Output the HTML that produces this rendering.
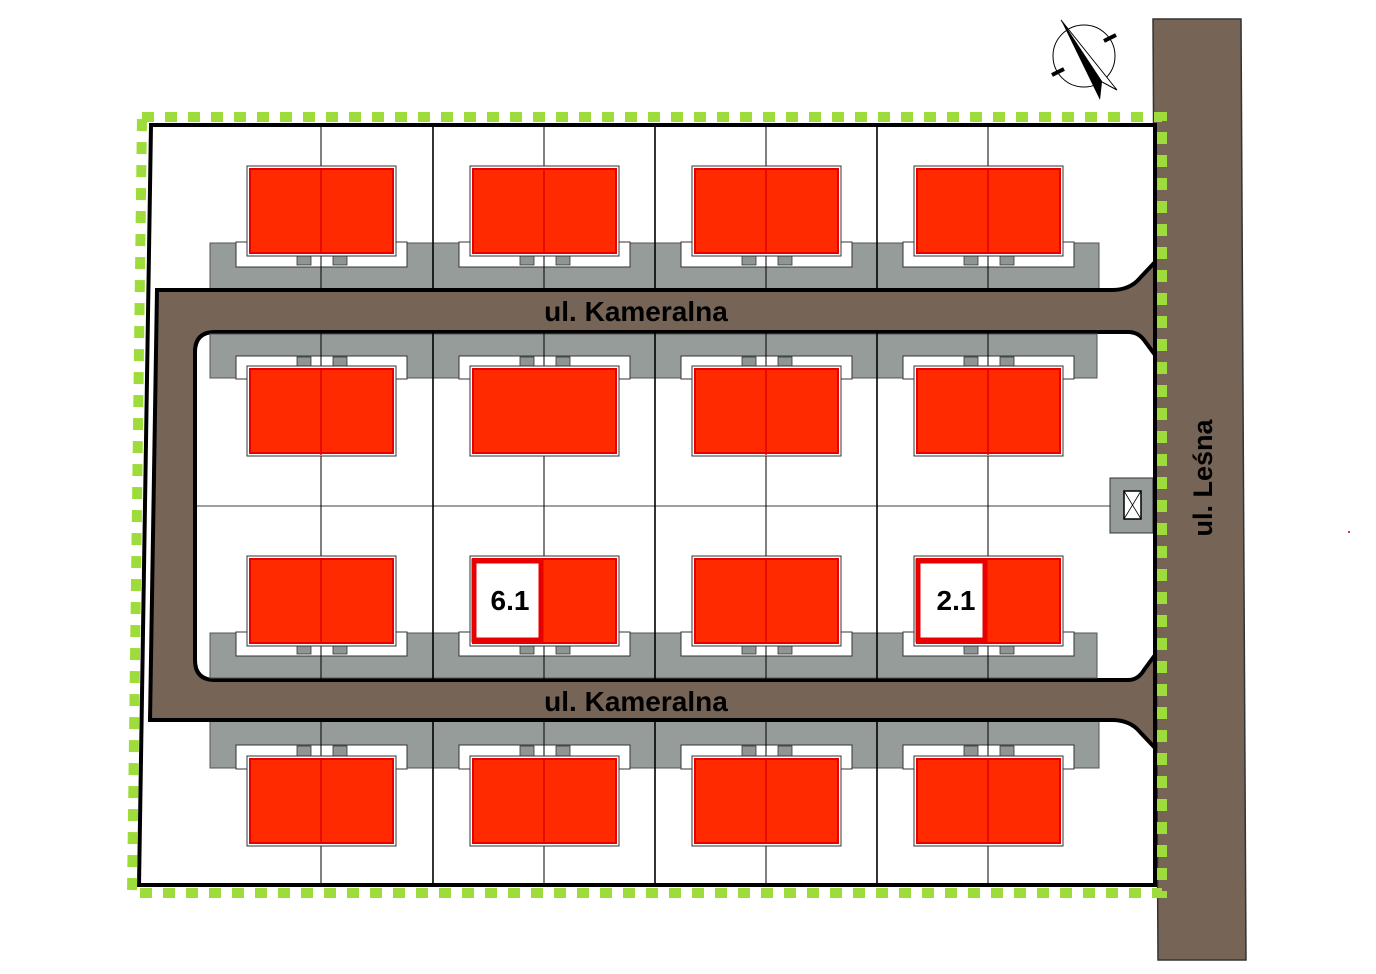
<!DOCTYPE html>
<html><head><meta charset="utf-8"><style>html,body{margin:0;padding:0;background:#fff}svg{display:block}</style></head><body>
<svg width="1376" height="974" viewBox="0 0 1376 974" xmlns="http://www.w3.org/2000/svg" font-family="Liberation Sans, sans-serif">
<defs>
<g id="h"><rect x="-1" y="-1" width="149" height="90" fill="#fff" stroke="#333" stroke-width="1"/><rect x="2" y="2" width="143" height="84" fill="#ff2a00" stroke="#e80000" stroke-width="2"/></g>
<g id="c"><rect x="49" y="0" width="14" height="11" fill="#8f9594" stroke="#333" stroke-width="0.8"/><rect x="85" y="0" width="14" height="11" fill="#8f9594" stroke="#333" stroke-width="0.8"/></g>
</defs>
<rect width="1376" height="974" fill="#fff"/>
<polygon points="1153,19 1241,19 1246,960 1158,960" fill="#766456" stroke="#333" stroke-width="1.5"/>
<polygon points="151,125 1155,125 1155,885 139,885" fill="#fff"/>
<g fill="#969c9a" stroke="#555" stroke-width="1">
<rect x="210" y="243" width="889" height="47"/>
<rect x="210" y="332" width="889" height="46"/>
<rect x="210" y="633" width="889" height="47"/>
<rect x="210" y="720" width="889" height="48"/>
</g>
<g fill="#fff" stroke="#333" stroke-width="1">
<rect x="236" y="242" width="171" height="25"/><rect x="459" y="242" width="171" height="25"/><rect x="681" y="242" width="171" height="25"/><rect x="903" y="242" width="171" height="25"/>
<rect x="236" y="745" width="171" height="24"/><rect x="459" y="745" width="171" height="24"/><rect x="681" y="745" width="171" height="24"/><rect x="903" y="745" width="171" height="24"/>
</g>
<path d="M157,290 L1112,290 Q1130,290 1140,278 L1155,262 L1155,748 L1140,732 Q1130,720 1112,720 L150,720 Z" fill="#766456" stroke="#000" stroke-width="4"/>
<path d="M215,332 L1128,332 Q1138,332 1144,340 L1155,355 L1155,655 L1144,670 Q1138,680 1128,680 L215,680 Q195,680 195,660 L195,352 Q195,332 215,332 Z" fill="#fff" stroke="#000" stroke-width="4"/>
<g fill="#969c9a" stroke="#555" stroke-width="1">
<rect x="210" y="334" width="887" height="44"/>
<rect x="210" y="633" width="887" height="45"/>
</g>
<g fill="#fff" stroke="#333" stroke-width="1">
<rect x="236" y="356" width="171" height="23"/><rect x="459" y="356" width="171" height="23"/><rect x="681" y="356" width="171" height="23"/><rect x="903" y="356" width="171" height="23"/>
<rect x="236" y="632" width="171" height="24"/><rect x="459" y="632" width="171" height="24"/><rect x="681" y="632" width="171" height="24"/><rect x="903" y="632" width="171" height="24"/>
</g>
<g stroke="#000" stroke-width="1">
<line x1="321" y1="125" x2="321" y2="290"/><line x1="544" y1="125" x2="544" y2="290"/><line x1="766" y1="125" x2="766" y2="290"/><line x1="988" y1="125" x2="988" y2="290"/>
<line x1="321" y1="332" x2="321" y2="680"/><line x1="544" y1="332" x2="544" y2="680"/><line x1="766" y1="332" x2="766" y2="680"/><line x1="988" y1="332" x2="988" y2="680"/>
<line x1="321" y1="720" x2="321" y2="885"/><line x1="544" y1="720" x2="544" y2="885"/><line x1="766" y1="720" x2="766" y2="885"/><line x1="988" y1="720" x2="988" y2="885"/>
<line x1="197" y1="506" x2="1110" y2="506" stroke-width="0.8"/>
</g>
<g stroke="#000" stroke-width="1.6">
<line x1="433" y1="125" x2="433" y2="290"/><line x1="655" y1="125" x2="655" y2="290"/><line x1="877" y1="125" x2="877" y2="290"/>
<line x1="433" y1="332" x2="433" y2="680"/><line x1="655" y1="332" x2="655" y2="680"/><line x1="877" y1="332" x2="877" y2="680"/>
<line x1="433" y1="720" x2="433" y2="885"/><line x1="655" y1="720" x2="655" y2="885"/><line x1="877" y1="720" x2="877" y2="885"/>
</g>
<use href="#c" x="248" y="254"/><use href="#c" x="471" y="254"/><use href="#c" x="693" y="254"/><use href="#c" x="915" y="254"/>
<use href="#c" x="248" y="357"/><use href="#c" x="471" y="357"/><use href="#c" x="693" y="357"/><use href="#c" x="915" y="357"/>
<use href="#c" x="248" y="643"/><use href="#c" x="471" y="643"/><use href="#c" x="693" y="643"/><use href="#c" x="915" y="643"/>
<use href="#c" x="248" y="746"/><use href="#c" x="471" y="746"/><use href="#c" x="693" y="746"/><use href="#c" x="915" y="746"/>
<use href="#h" x="248" y="167"/><use href="#h" x="471" y="167"/><use href="#h" x="693" y="167"/><use href="#h" x="915" y="167"/>
<use href="#h" x="248" y="367"/><use href="#h" x="471" y="367"/><use href="#h" x="693" y="367"/><use href="#h" x="915" y="367"/>
<use href="#h" x="248" y="557"/><use href="#h" x="471" y="557"/><use href="#h" x="693" y="557"/><use href="#h" x="915" y="557"/>
<use href="#h" x="248" y="757"/><use href="#h" x="471" y="757"/><use href="#h" x="693" y="757"/><use href="#h" x="915" y="757"/>
<g stroke="#e00000" stroke-width="1.5">
<line x1="321" y1="168" x2="321" y2="254"/><line x1="544" y1="168" x2="544" y2="254"/><line x1="766" y1="168" x2="766" y2="254"/><line x1="988" y1="168" x2="988" y2="254"/>
<line x1="321" y1="368" x2="321" y2="455"/><line x1="766" y1="368" x2="766" y2="455"/><line x1="988" y1="368" x2="988" y2="455"/>
<line x1="321" y1="558" x2="321" y2="643"/><line x1="766" y1="558" x2="766" y2="643"/>
<line x1="321" y1="758" x2="321" y2="843"/><line x1="544" y1="758" x2="544" y2="843"/><line x1="766" y1="758" x2="766" y2="843"/><line x1="988" y1="758" x2="988" y2="843"/>
</g>
<rect x="474" y="561" width="67" height="79" fill="#fff" stroke="#e80000" stroke-width="5"/>
<rect x="918" y="561" width="67" height="79" fill="#fff" stroke="#e80000" stroke-width="5"/>
<text x="510" y="610" font-size="28" font-weight="bold" text-anchor="middle">6.1</text>
<text x="956" y="610" font-size="28" font-weight="bold" text-anchor="middle">2.1</text>
<rect x="1110" y="478" width="43" height="55" fill="#969c9a" stroke="#333"/>
<rect x="1124" y="491" width="17" height="28" fill="#fff" stroke="#000" stroke-width="1.5"/>
<path d="M1124,491 L1141,519 M1141,491 L1124,519" stroke="#000" stroke-width="0.8"/>
<polygon points="151,125 1155,125 1155,885 139,885" fill="none" stroke="#000" stroke-width="4"/>
<polygon points="142,117 1162,117 1162,893 132,893" fill="none" stroke="#9edc3c" stroke-width="10" stroke-dasharray="12 11"/>
<text x="636" y="321" font-size="28" font-weight="bold" text-anchor="middle">ul. Kameralna</text>
<text x="636" y="711" font-size="28" font-weight="bold" text-anchor="middle">ul. Kameralna</text>
<text transform="translate(1212,478) rotate(-90)" font-size="27" font-weight="bold" text-anchor="middle">ul. Leśna</text>
<circle cx="1084" cy="56" r="31" fill="none" stroke="#000" stroke-width="1"/>
<line x1="1104" y1="41" x2="1116" y2="35" stroke="#000" stroke-width="4"/>
<line x1="1052" y1="75" x2="1064" y2="69" stroke="#000" stroke-width="4"/>
<polygon points="1061,20 1100,100 1102,82" fill="#000"/>
<polygon points="1061,20 1102,82 1117,90" fill="#fff" stroke="#000" stroke-width="1"/>
<rect x="1348" y="531" width="2" height="2" fill="#e03050"/>
</svg>
</body></html>
